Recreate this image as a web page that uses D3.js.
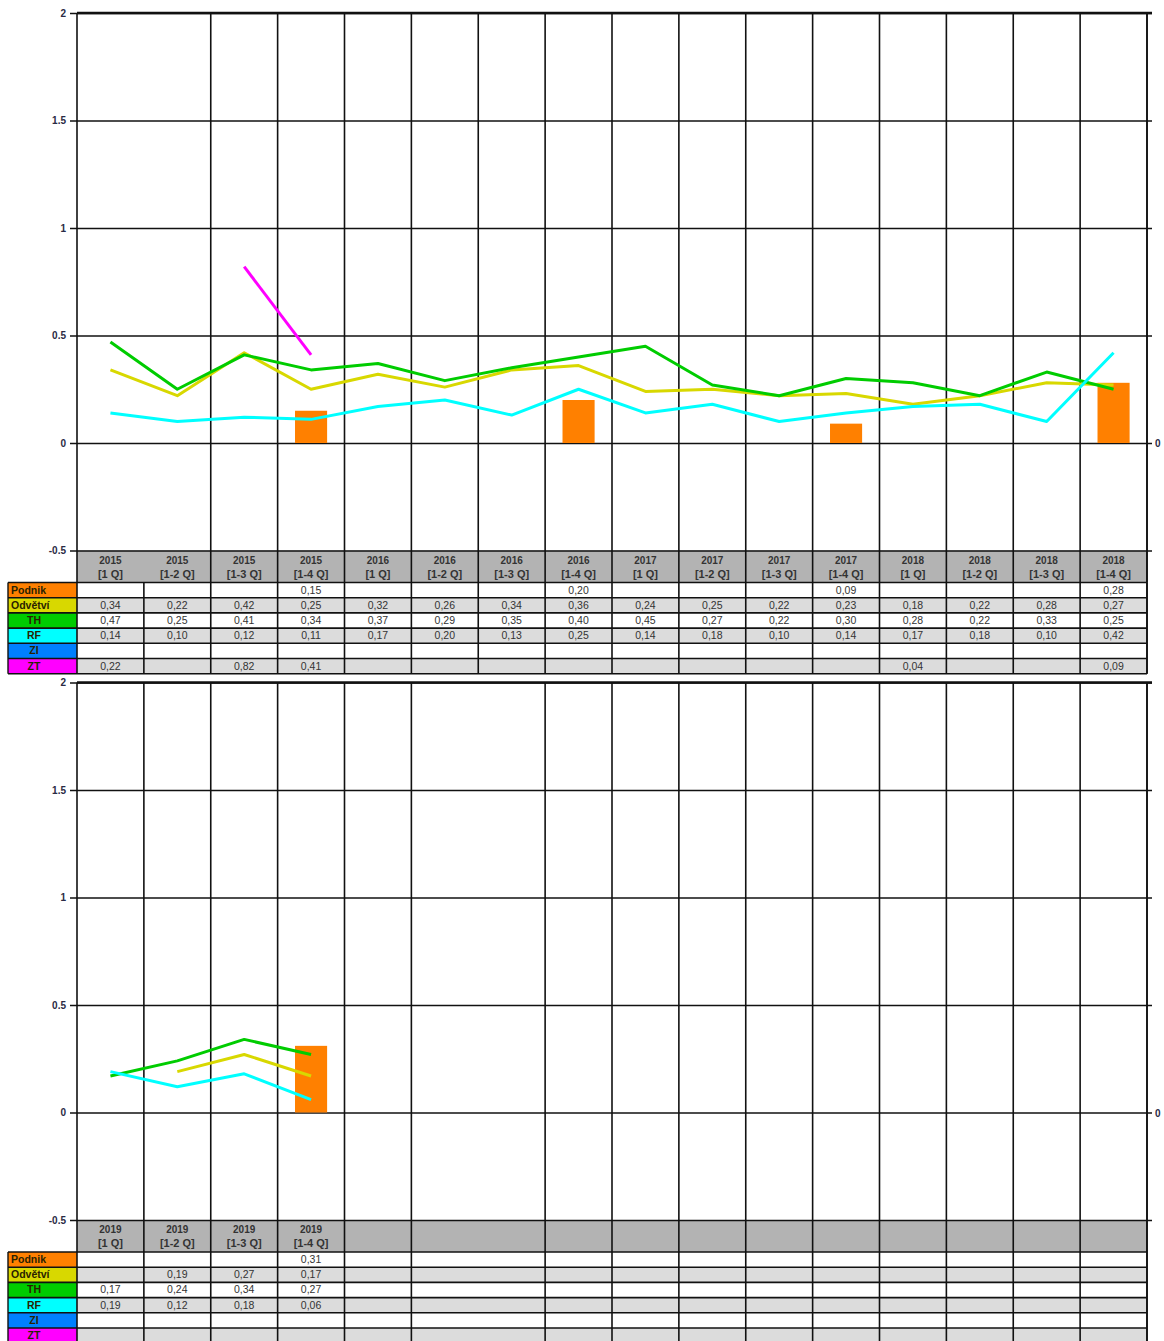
<!DOCTYPE html>
<html><head><meta charset="utf-8">
<script src="https://cdn.jsdelivr.net/npm/d3@7/dist/d3.min.js"></script>
<style>
html,body{margin:0;padding:0;background:#fff;}
svg{display:block;font-family:"Liberation Sans",Arial,sans-serif;}
</style></head>
<body>
<script>
// ---- Data ----
const yearsTop = ["2015","2015","2015","2015","2016","2016","2016","2016","2017","2017","2017","2017","2018","2018","2018","2018"];
const periodsTop = ["[1 Q]","[1-2 Q]","[1-3 Q]","[1-4 Q]","[1 Q]","[1-2 Q]","[1-3 Q]","[1-4 Q]","[1 Q]","[1-2 Q]","[1-3 Q]","[1-4 Q]","[1 Q]","[1-2 Q]","[1-3 Q]","[1-4 Q]"];
const podnikTop  = [null,null,null,0.15, null,null,null,0.20, null,null,null,0.09, null,null,null,0.28];
const odvetviTop = [0.34,0.22,0.42,0.25, 0.32,0.26,0.34,0.36, 0.24,0.25,0.22,0.23, 0.18,0.22,0.28,0.27];
const thTop      = [0.47,0.25,0.41,0.34, 0.37,0.29,0.35,0.40, 0.45,0.27,0.22,0.30, 0.28,0.22,0.33,0.25];
const rfTop      = [0.14,0.10,0.12,0.11, 0.17,0.20,0.13,0.25, 0.14,0.18,0.10,0.14, 0.17,0.18,0.10,0.42];
const ziTop      = [null,null,null,null, null,null,null,null, null,null,null,null, null,null,null,null];
const ztTop      = [0.22,null,0.82,0.41, null,null,null,null, null,null,null,null, 0.04,null,null,0.09];

const yearsBottom = ["2019","2019","2019","2019","","","","","","","","","","","",""];
const periodsBottom = ["[1 Q]","[1-2 Q]","[1-3 Q]","[1-4 Q]","","","","","","","","","","","",""];
const podnikBottom  = [null,null,null,0.31, null,null,null,null, null,null,null,null, null,null,null,null];
const odvetviBottom = [null,0.19,0.27,0.17, null,null,null,null, null,null,null,null, null,null,null,null];
const thBottom      = [0.17,0.24,0.34,0.27, null,null,null,null, null,null,null,null, null,null,null,null];
const rfBottom      = [0.19,0.12,0.18,0.06, null,null,null,null, null,null,null,null, null,null,null,null];
const ziBottom      = [null,null,null,null, null,null,null,null, null,null,null,null, null,null,null,null];
const ztBottom      = [null,null,null,null, null,null,null,null, null,null,null,null, null,null,null,null];

const seriesNames = ["Podnik","Odvětví","TH","RF","ZI","ZT"];
const seriesColors = ["#ff8000","#d8d800","#00cc00","#00ffff","#0080ff","#ff00ff"];
const yTicks = [-0.5,0,0.5,1,1.5,2];

// ---- Drawing ----
const W = 1164, H = 1341;
const svg = d3.select("body").append("svg").attr("width",W).attr("height",H);

const plotL = 77, plotR = 1147, labelL = 8;
const rowH = 15.2, headH = 32;
const fmt = v => v==null ? "" : v.toFixed(2).replace(".", ",");

function panel(top, years, periods, data, skipPlot, skipTable){
  const g = svg.append("g");
  const idx = d3.range(16);
  const x = d3.scaleBand().domain(idx).range([plotL, plotR]).padding(0);
  const y = d3.scaleLinear().domain([-0.5, 2]).range([top + 537.5, top]);
  const y0 = y(-0.5);
  const tableTop = y0 + headH;
  const tableBot = tableTop + 6*rowH;

  // header fill
  g.append("rect").attr("x",plotL).attr("y",y0).attr("width",plotR-plotL).attr("height",headH).attr("fill","#b3b3b3");
  // row fills
  seriesNames.forEach((n,i)=>{
    g.append("rect").attr("x",plotL).attr("y",tableTop+i*rowH).attr("width",plotR-plotL).attr("height",rowH)
      .attr("fill", i%2===1 ? "#dcdcdc" : "#ffffff");
    g.append("rect").attr("x",labelL).attr("y",tableTop+i*rowH).attr("width",plotL-labelL).attr("height",rowH)
      .attr("fill", seriesColors[i]);
  });

  // horizontal gridlines + left axis
  const yAxis = d3.axisLeft(y).tickValues(yTicks).tickSize(-(plotR-plotL)).tickSizeOuter(0)
    .tickFormat(d => String(d));
  const ga = g.append("g").attr("transform",`translate(${plotL},0)`).call(yAxis);
  ga.select(".domain").remove();
  ga.selectAll(".tick line").attr("x1",-7).attr("x2",plotR-plotL+5).attr("stroke","#111").attr("stroke-width",1.6);
  ga.selectAll(".tick text").attr("x",-11).attr("fill","#2a2a44").attr("font-size",10).attr("font-weight","bold")
    .attr("font-family","Liberation Sans, Arial, sans-serif");
  // right zero label
  g.append("text").attr("x",1155).attr("y",y(0)+4).attr("font-size",10).attr("font-weight","bold")
    .attr("fill","#2a2a44").text("0");

  // vertical lines
  for(let i=0;i<=16;i++){
    const xx = i===16 ? plotR : x(i);
    if(i!==skipPlot){
      g.append("line").attr("x1",xx).attr("x2",xx).attr("y1",top).attr("y2",tableTop)
        .attr("stroke","#111").attr("stroke-width",1.6);
    }
    if(i!==skipTable){
      g.append("line").attr("x1",xx).attr("x2",xx).attr("y1",tableTop).attr("y2",tableBot)
        .attr("stroke","#111").attr("stroke-width",1.6);
    }
  }
  g.append("line").attr("x1",plotR).attr("x2",plotR).attr("y1",top).attr("y2",tableBot).attr("stroke","#111").attr("stroke-width",1.6);
  g.append("line").attr("x1",plotL).attr("x2",plotR+5).attr("y1",top).attr("y2",top).attr("stroke","#111").attr("stroke-width",2.4);
  // label column borders
  g.append("line").attr("x1",labelL).attr("x2",labelL).attr("y1",tableTop).attr("y2",tableBot).attr("stroke","#111").attr("stroke-width",1.4);
  for(let i=0;i<=6;i++){
    g.append("line").attr("x1",labelL).attr("x2",plotR).attr("y1",tableTop+i*rowH).attr("y2",tableTop+i*rowH)
      .attr("stroke","#111").attr("stroke-width",1.6);
  }

  // header texts
  idx.forEach(i=>{
    const cx = x(i)+x.bandwidth()/2;
    g.append("text").attr("x",cx).attr("y",y0+13).attr("text-anchor","middle").attr("font-size",10)
      .attr("font-weight","bold").attr("fill","#333").text(years[i]);
    g.append("text").attr("x",cx).attr("y",y0+27).attr("text-anchor","middle").attr("font-size",11)
      .attr("font-weight","bold").attr("fill","#333").text(periods[i]);
  });

  // row labels
  seriesNames.forEach((n,i)=>{
    const left = i<2;
    g.append("text").attr("x", left ? labelL+3 : 34).attr("y",tableTop+i*rowH+11)
      .attr("text-anchor", left ? "start" : "middle").attr("font-size",10.5).attr("font-weight","bold")
      .attr("fill","#2a2200").text(n);
    data[i].forEach((v,j)=>{
      if(v==null) return;
      g.append("text").attr("x",x(j)+x.bandwidth()/2).attr("y",tableTop+i*rowH+11).attr("text-anchor","middle")
        .attr("font-size",10.5).attr("fill","#333").text(fmt(v));
    });
  });

  // bars (Podnik)
  const bw = x.bandwidth()*0.48;
  g.append("g").selectAll("rect").data(data[0].map((v,i)=>({v,i})).filter(d=>d.v!=null)).join("rect")
    .attr("x",d=>x(d.i)+x.bandwidth()/2-bw/2).attr("width",bw)
    .attr("y",d=>y(Math.max(0,d.v))).attr("height",d=>Math.abs(y(d.v)-y(0)))
    .attr("fill",seriesColors[0]);

  // lines
  const line = d3.line().defined(d=>d.v!=null).x(d=>x(d.i)+x.bandwidth()/2).y(d=>y(d.v));
  [1,2,3,4,5].forEach(k=>{
    g.append("path").datum(data[k].map((v,i)=>({v,i}))).attr("d",line)
      .attr("fill","none").attr("stroke",seriesColors[k]).attr("stroke-width",3)
      .attr("stroke-linejoin","round");
  });
}

panel(13, yearsTop, periodsTop, [podnikTop,odvetviTop,thTop,rfTop,ziTop,ztTop], 1, -1);
panel(682.5, yearsBottom, periodsBottom, [podnikBottom,odvetviBottom,thBottom,rfBottom,ziBottom,ztBottom], 6, 6);
</script>
</body></html>
